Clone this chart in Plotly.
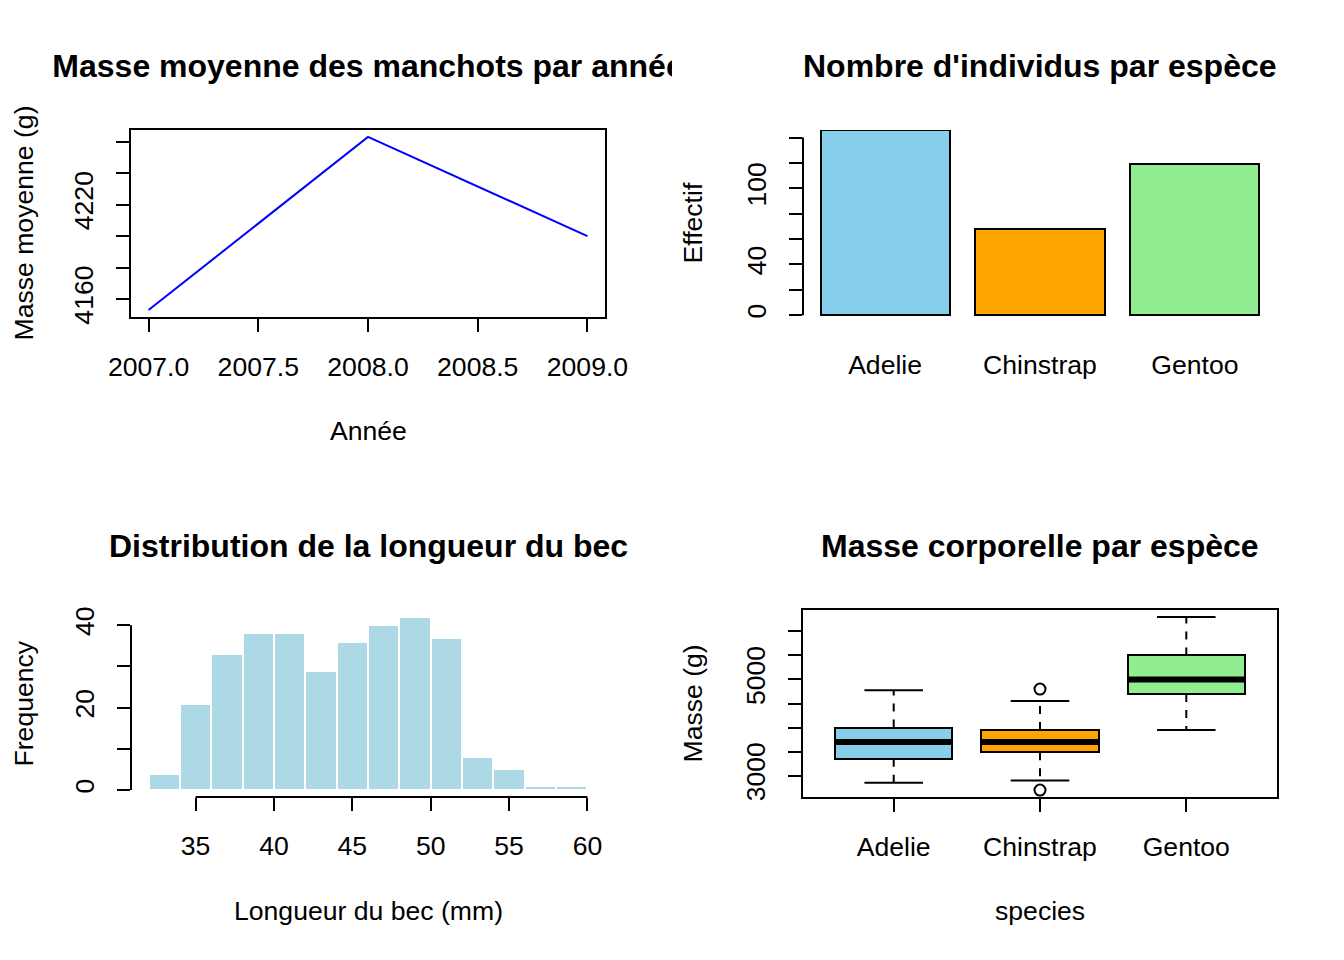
import plotly.graph_objects as go
import numpy as np

# ---------------- data ----------------
years = [2007, 2008, 2009]
mean_mass = [4153, 4263, 4200]
year_ticks = [2007.0, 2007.5, 2008.0, 2008.5, 2009.0]
mass_ticks1 = [4160, 4180, 4200, 4220, 4240, 4260]
mass_ticklabels1 = ["4160", "", "", "4220", "", ""]

species = ["Adelie", "Chinstrap", "Gentoo"]
species_counts = [146, 68, 119]
species_colors = ["#87CEEB", "#FFA500", "#90EE90"]
count_ticks = [0, 20, 40, 60, 80, 100, 120, 140]
count_ticklabels = ["0", "", "40", "", "", "100", "", ""]

bill_breaks = [32, 34, 36, 38, 40, 42, 44, 46, 48, 50, 52, 54, 56, 58, 60]
bill_counts = [4, 21, 33, 38, 38, 29, 36, 40, 42, 37, 8, 5, 1, 1]
bill_ticks = [35, 40, 45, 50, 55, 60]
freq_ticks = [0, 10, 20, 30, 40]
freq_ticklabels = ["0", "", "20", "", "40"]

mass_q1 = [3350, 3487.5, 4700]
mass_med = [3700, 3700, 5000]
mass_q3 = [4000, 3950, 5500]
mass_lo = [2850, 2900, 3950]
mass_hi = [4775, 4550, 6300]
outlier_species = ["Chinstrap", "Chinstrap"]
outlier_mass = [4800, 2700]
mass_ticks4 = [3000, 3500, 4000, 4500, 5000, 5500, 6000]
mass_ticklabels4 = ["3000", "", "", "", "5000", "", ""]

titles = ["Masse moyenne des manchots par année", "Nombre d'individus par espèce",
          "Distribution de la longueur du bec", "Masse corporelle par espèce"]

# ---------------- layout helpers ----------------
OFF = 8                      # page body margin of the browser
W, H = 1344 - 2 * OFF, 960 - 2 * OFF
FONT = "Liberation Sans, Arial, Helvetica, sans-serif"
FS = 26.6
TFS = 32

def px_x(p):
    return (p - OFF) / W

def px_y(p):
    return 1 - (p - OFF) / H

dom_left = [px_x(131), px_x(605)]
dom_right = [px_x(803), px_x(1277)]
dom_top = [px_y(317), px_y(130)]
dom_bot = [px_y(797), px_y(610)]

def pad_range(lo, hi, f=0.04):
    d = (hi - lo) * f
    return [lo - d, hi + d]

fig = go.Figure()

# Panel 1: line
fig.add_trace(go.Scatter(x=years, y=mean_mass, mode="lines",
                         line=dict(color="blue", width=2), xaxis="x", yaxis="y"))

# Panel 2: bars
fig.add_trace(go.Bar(x=species, y=species_counts, width=1 / 1.2,
                     marker=dict(color=species_colors, line=dict(color="black", width=2)),
                     xaxis="x2", yaxis="y2"))

# Panel 3: histogram
edges = np.array(bill_breaks, dtype=float)
centers = (edges[:-1] + edges[1:]) / 2
widths = np.diff(edges)
fig.add_trace(go.Bar(x=centers, y=bill_counts, width=widths,
                     marker=dict(color="#ADD8E6", line=dict(color="white", width=2)),
                     xaxis="x3", yaxis="y3"))

# Panel 4: box plots
pos = np.arange(1, len(species) + 1)
half = 0.4
cap = 0.2
wx, wy = [], []
for i, p in enumerate(pos):
    wx += [p, p, None, p, p, None]
    wy += [mass_q3[i], mass_hi[i], None, mass_q1[i], mass_lo[i], None]
fig.add_trace(go.Scatter(x=wx, y=wy, mode="lines",
                         line=dict(color="black", width=2, dash="8px,8px"),
                         xaxis="x4", yaxis="y4"))
fig.add_trace(go.Bar(x=pos, base=mass_q1, y=np.array(mass_q3) - np.array(mass_q1),
                     width=2 * half,
                     marker=dict(color=species_colors, line=dict(color="black", width=2)),
                     xaxis="x4", yaxis="y4"))
mx, my = [], []
for i, p in enumerate(pos):
    mx += [p - half, p + half, None]
    my += [mass_med[i], mass_med[i], None]
fig.add_trace(go.Scatter(x=mx, y=my, mode="lines", line=dict(color="black", width=6),
                         xaxis="x4", yaxis="y4"))
cx, cy = [], []
for i, p in enumerate(pos):
    cx += [p - cap, p + cap, None, p - cap, p + cap, None]
    cy += [mass_hi[i], mass_hi[i], None, mass_lo[i], mass_lo[i], None]
fig.add_trace(go.Scatter(x=cx, y=cy, mode="lines", line=dict(color="black", width=2),
                         xaxis="x4", yaxis="y4"))
ox = [species.index(s) + 1 for s in outlier_species]
fig.add_trace(go.Scatter(x=ox, y=outlier_mass, mode="markers",
                         marker=dict(symbol="circle-open", size=11, color="black",
                                     line=dict(width=2, color="black")),
                         xaxis="x4", yaxis="y4"))

# Clipped title for panel 1 (overflows its panel in the reference)
fig.add_trace(go.Scatter(x=[368], y=[68.5], mode="text", text=[titles[0]],
                         textposition="middle center",
                         textfont=dict(family=FONT, size=TFS, color="black", weight="bold"),
                         cliponaxis=True, xaxis="x5", yaxis="y5", hoverinfo="skip"))

base_ax = dict(showgrid=False, zeroline=False, ticks="outside", ticklen=13, tickwidth=2,
               tickcolor="black", tickfont=dict(family=FONT, size=FS, color="black"),
               linecolor="black", linewidth=2, automargin=False)
SX = 12
SY = 12

fig.update_layout(
    width=W, height=H, margin=dict(l=0, r=0, t=0, b=0, pad=0, autoexpand=False),
    paper_bgcolor="white", plot_bgcolor="rgba(0,0,0,0)", showlegend=False, bargap=0,
    xaxis=dict(base_ax, domain=dom_left, anchor="y", range=pad_range(min(years), max(years)),
               tickvals=year_ticks, ticktext=[f"{v:.1f}" for v in year_ticks],
               showline=True, mirror=True, ticklabelstandoff=SX),
    yaxis=dict(base_ax, domain=dom_top, anchor="x", range=pad_range(min(mean_mass), max(mean_mass)),
               tickvals=mass_ticks1, ticktext=mass_ticklabels1, tickangle=-90,
               showline=True, mirror=True, ticklabelstandoff=SY),
    xaxis2=dict(base_ax, domain=dom_right, anchor="y2", type="category",
                range=[-0.53, 2.53], ticks="", showline=False, ticklabelstandoff=SX + 17),
    yaxis2=dict(base_ax, domain=dom_top, anchor="x2",
                range=[-0.01 * max(species_counts), max(species_counts)],
                tickvals=count_ticks, ticktext=count_ticklabels, tickangle=-90,
                showline=False, ticklabelstandoff=SY),
    xaxis3=dict(base_ax, domain=dom_left, anchor="y3",
                range=pad_range(bill_breaks[0], bill_breaks[-1]),
                tickvals=bill_ticks, showline=False, ticklabelstandoff=SX),
    yaxis3=dict(base_ax, domain=dom_bot, anchor="x3",
                range=pad_range(0, max(bill_counts)),
                tickvals=freq_ticks, ticktext=freq_ticklabels, tickangle=-90,
                showline=False, ticklabelstandoff=SY),
    xaxis4=dict(base_ax, domain=dom_right, anchor="y4", range=[0.38, 3.62],
                tickvals=list(pos), ticktext=species, showline=True, mirror=True,
                ticklabelstandoff=SX),
    yaxis4=dict(base_ax, domain=dom_bot, anchor="x4",
                range=pad_range(min(mass_lo + outlier_mass), max(mass_hi + outlier_mass)),
                tickvals=mass_ticks4, ticktext=mass_ticklabels4, tickangle=-90,
                showline=True, mirror=True, ticklabelstandoff=SY),
    xaxis5=dict(domain=[0, px_x(672)], range=[OFF, 672], visible=False, anchor="y5",
                fixedrange=True, automargin=False),
    yaxis5=dict(domain=[px_y(480), 1], range=[480, OFF], visible=False, anchor="x5",
                fixedrange=True, automargin=False),
)

# R-style axis lines spanning only the tick range
fig.add_shape(type="line", xref="x2 domain", yref="y2", x0=0, x1=0,
              y0=count_ticks[0], y1=count_ticks[-1], line=dict(color="black", width=2))
fig.add_shape(type="line", xref="x3 domain", yref="y3", x0=0, x1=0,
              y0=freq_ticks[0], y1=freq_ticks[-1], line=dict(color="black", width=2))
fig.add_shape(type="line", xref="x3", yref="y3 domain", x0=bill_ticks[0], x1=bill_ticks[-1],
              y0=0, y1=0, line=dict(color="black", width=2))

def ann(text, x, y, size=FS, bold=False, angle=0):
    fig.add_annotation(text=text, x=px_x(x), y=px_y(y), xref="paper", yref="paper",
                       showarrow=False, textangle=angle, xanchor="center", yanchor="middle",
                       borderpad=0,
                       font=dict(family=FONT, size=size, color="black",
                                 weight="bold" if bold else "normal"))

ann(titles[1], 1040, 66, TFS, True)
ann(titles[2], 368, 546, TFS, True)
ann(titles[3], 1040, 546, TFS, True)
ann("Année", 368, 431)
ann("Longueur du bec (mm)", 368, 911)
ann("species", 1040, 911)
ann("Masse moyenne (g)", 23, 223.5, angle=-90)
ann("Effectif", 692, 223.5, angle=-90)
ann("Frequency", 23, 703.5, angle=-90)
ann("Masse (g)", 692, 703.5, angle=-90)

fig.write_html("out.html")
